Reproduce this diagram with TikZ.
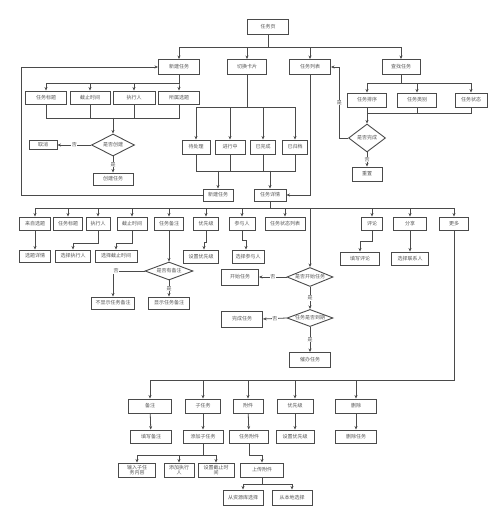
\documentclass[tikz,border=0pt]{standalone}
\usepackage{fontspec}
\newfontfamily\cjk{Noto Sans CJK SC}
\usetikzlibrary{shapes.geometric,arrows.meta}
\definecolor{linegray}{HTML}{4A4A4A}
\definecolor{textgray}{HTML}{555555}
\begin{document}
\begin{tikzpicture}[
    x=1pt, y=-1pt,
    process/.style={rectangle, draw=linegray, line width=0.9pt, fill=white, minimum width=#1, minimum height=13pt, inner sep=0.5pt, align=center, font=\cjk\fontsize{5}{5.5}\selectfont, text=textgray},
    process/.default=40pt,
    decision/.style={diamond, draw=linegray, line width=0.9pt, fill=white, aspect=2.4, inner sep=0pt, font=\cjk\fontsize{5}{5.5}\selectfont, text=textgray},
    arrow/.style={-{Stealth[length=3.5pt,width=3pt]}, draw=linegray, line width=0.8pt},
    line/.style={draw=linegray, line width=0.8pt},
    lbl/.style={fill=white, inner sep=0.6pt, font=\cjk\fontsize{5}{5.5}\selectfont, text=textgray}
]
\useasboundingbox (0,0) rectangle (500,518);

% Top level
\node[process=41pt, minimum height=15pt] (page) at (268,27) {任务页};
\node[process=41pt, minimum height=15pt] (newtask) at (179,67) {新建任务};
\node[process=39pt, minimum height=15pt] (switch) at (247,67) {切换卡片};
\node[process=41pt, minimum height=15pt] (list) at (310,67) {任务列表};
\node[process=38pt, minimum height=15pt] (find) at (401,67) {查找任务};

\foreach \n in {newtask,switch,list,find}
    \draw[arrow] (page.south) -- ++(0,12.5) -| (\n.north);

% New task
\node[process=41pt] (title) at (46,97.5) {任务标题};
\node[process=40pt] (deadline) at (90,97.5) {截止时间};
\node[process=42pt] (exec) at (134,97.5) {执行人};
\node[process=41pt] (topic) at (179,97.5) {所属选题};
\node[decision, minimum width=43pt, minimum height=22pt] (iscreate) at (113,145) {是否创建};
\node[process=28pt, minimum height=9pt] (cancel) at (43,145) {取消};
\node[process=40pt, minimum height=12pt] (create) at (113,179) {创建任务};

\foreach \n in {title,deadline,exec,topic}
    \draw[arrow] (newtask.south) -- ++(0,8.5) -| (\n.north);
\draw[line] (title.south) -- ++(0,14) -| (topic.south);
\draw[line] (deadline.south) -- ++(0,14);
\draw[line] (exec.south) -- ++(0,14);
\draw[arrow] ([yshift=16pt]iscreate.north) -- (iscreate.north);
\draw[arrow] (iscreate.west) -- node[lbl]{否} (cancel.east);
\draw[arrow] (iscreate.south) -- node[lbl]{是} (create.north);

% Switch cards
\node[process=28pt, minimum height=14pt] (pending) at (196,147) {待处理};
\node[process=30pt, minimum height=14pt] (doing) at (230,147) {进行中};
\node[process=25pt, minimum height=14pt] (done) at (263,147) {已完成};
\node[process=25pt, minimum height=14pt] (archived) at (295,147) {已归档};
\node[process=30pt, minimum height=12pt] (newtask2) at (218,195) {新建任务};
\node[process=32pt, minimum height=12pt] (detail) at (270,195) {任务详情};

\foreach \n in {pending,doing,done,archived}
    \draw[arrow] (switch.south) -- ++(0,32.5) -| (\n.north);
\draw[line] (pending.south) -- ++(0,17) -| (archived.south);
\draw[line] (doing.south) -- ++(0,17);
\draw[line] (done.south) -- ++(0,17);
\draw[arrow] ([yshift=18pt]newtask2.north) -- (newtask2.north);
\draw[arrow] ([yshift=18pt]detail.north) -- (detail.north);
\draw[arrow] (list.south) |- (detail.east);

% loop back to new task
\coordinate (loop) at (21,195);
\draw[arrow] (newtask2.west) -- (loop) |- (newtask.west);

% Find task
\node[process=39pt, minimum height=14pt] (sort) at (367,100) {任务排序};
\node[process=39pt, minimum height=14pt] (category) at (417,100) {任务类别};
\node[process=32pt, minimum height=14pt] (state) at (471,100) {任务状态};
\node[decision, minimum width=37pt, minimum height=28pt] (isdone) at (367,138) {是否完成};
\node[process=30pt, minimum height=14pt] (reset) at (367,174) {重置};

\foreach \n in {sort,category,state}
    \draw[arrow] (find.south) -- ++(0,8.5) -| (\n.north);
\draw[line] (sort.south) -- ++(0,6) -| (state.south);
\draw[line] (category.south) -- ++(0,6);
\draw[arrow] (sort.south) -- (isdone.north);
\draw[arrow] (isdone.west) -| node[lbl, pos=0.75]{是} ([xshift=8.5pt]list.east) -- (list.east);
\draw[arrow] (isdone.south) -- node[lbl]{否} (reset.north);

% Task detail
\node[process=31pt] (fromtopic) at (35,223.5) {来自选题};
\node[process=29pt] (title2) at (68,223.5) {任务标题};
\node[process=24pt] (exec2) at (98,223.5) {执行人};
\node[process=30pt] (deadline2) at (132,223.5) {截止时间};
\node[process=29pt] (note) at (169,223.5) {任务备注};
\node[process=25pt] (prio) at (206,223.5) {优先级};
\node[process=26pt] (member) at (242,223.5) {参与人};
\node[process=40pt] (statelist) at (285,223.5) {任务状态列表};
\node[process=21pt] (comment) at (372,223.5) {评论};
\node[process=33pt] (share) at (410,223.5) {分享};
\node[process=29pt] (more) at (454,223.5) {更多};
\node[decision, minimum width=46pt, minimum height=19pt] (isstart) at (310,277) {是否开始任务};

\foreach \n in {fromtopic,title2,exec2,deadline2,note,prio,member,statelist,comment,share,more,isstart}
    \draw[arrow] (detail.south) -- ++(0,7) -| (\n.north);

\node[process=31pt, minimum height=12pt] (topicdetail) at (35,256) {选题详情};
\node[process=35pt, minimum height=12pt] (pickexec) at (73,256) {选择执行人};
\node[process=42pt, minimum height=12pt] (pickdeadline) at (116,256) {选择截止时间};
\node[process=35pt, minimum height=13pt] (setprio) at (201,256.5) {设置优先级};
\node[process=32pt, minimum height=13pt] (pickmember) at (248,256.5) {选择参与人};
\node[process=39pt] (writecomment) at (360,258.5) {填写评论};
\node[process=37pt] (pickcontact) at (410,258.5) {选择联系人};

\draw[arrow] (fromtopic) -- (topicdetail);
\draw[arrow] (exec2.south) -- ++(0,12.5) -| (pickexec.north);
\draw[arrow] (deadline2.south) -- ++(0,12.5) -| (pickdeadline.north);
\draw[arrow] (prio.south) -- ++(0,12) -| ([xshift=3pt]setprio.north);
\draw[arrow] (member.south) -- ++(0,10) -| ([xshift=-2pt]pickmember.north);
\draw[arrow] (comment.south) -- ++(0,11) -| (writecomment.north);
\draw[arrow] (share) -- (pickcontact);

% Note
\node[decision, minimum width=48pt, minimum height=18pt] (hasnote) at (169,271) {是否有备注};
\node[process=43pt, minimum height=12pt] (hidenote) at (113,303) {不显示任务备注};
\node[process=41pt, minimum height=12pt] (shownote) at (169,303) {显示任务备注};

\draw[arrow] (note.south) -- (hasnote.north);
\draw[arrow] (hasnote.west) -| node[lbl, pos=0.45]{否} (hidenote.north);
\draw[arrow] (hasnote.south) -- node[lbl]{是} (shownote.north);

% Start / due
\node[process=37pt, minimum height=16pt] (starttask) at (240,277) {开始任务};
\node[decision, minimum width=46pt, minimum height=17pt] (isdue) at (310,318) {任务是否到期};
\node[process=41pt, minimum height=16pt] (finish) at (242,319) {完成任务};
\node[process=41pt, minimum height=15pt] (urge) at (310,360) {催办任务};

\draw[arrow] (isstart.west) -- node[lbl]{否} (starttask.east);
\draw[arrow] (isstart.south) -- node[lbl]{是} (isdue.north);
\draw[arrow] (isdue.west) -- node[lbl]{否} (finish.east);
\draw[arrow] (isdue.south) -- node[lbl]{是} (urge.north);

% More
\node[process=43pt, minimum height=14pt] (note2) at (150,406) {备注};
\node[process=35pt, minimum height=14pt] (subtask) at (203,406) {子任务};
\node[process=30pt, minimum height=14pt] (attach) at (248,406) {附件};
\node[process=36pt, minimum height=14pt] (prio2) at (295,406) {优先级};
\node[process=41pt, minimum height=14pt] (delete) at (356,406) {删除};

\foreach \n in {note2,subtask,attach,prio2,delete}
    \draw[arrow] (more.south) -- ++(0,150) -| (\n.north);

\node[process=41pt] (writenote) at (151,436.5) {填写备注};
\node[process=40pt] (addsub) at (203,436.5) {添加子任务};
\node[process=39pt] (attachtask) at (249,436.5) {任务附件};
\node[process=38pt] (setprio2) at (295,436.5) {设置优先级};
\node[process=41pt] (deltask) at (356,436.5) {删除任务};

\draw[arrow] (note2) -- (writenote);
\draw[arrow] (subtask) -- (addsub);
\draw[arrow] (attach) -- (attachtask);
\draw[arrow] (prio2) -- (setprio2);
\draw[arrow] (delete) -- (deltask);

% Subtask and attachment
\node[process=37pt, minimum height=14pt] (inputsub) at (137,470) {输入子任\\务内容};
\node[process=30pt, minimum height=14pt] (addexec) at (179,470) {添加执行\\人};
\node[process=36pt, minimum height=14pt] (setdeadline) at (216,470) {设置截止时\\间};
\node[process=43pt, minimum height=14pt] (upload) at (262,470) {上传附件};
\node[process=40pt, minimum height=15pt] (fromlib) at (243,497.5) {从资源库选择};
\node[process=40pt, minimum height=15pt] (fromlocal) at (292,497.5) {从本地选择};

\foreach \n in {inputsub,addexec,setdeadline}
    \draw[arrow] (addsub.south) -- ++(0,12) -| (\n.north);
\draw[arrow] (attachtask.south) -- ++(0,12) -| (upload.north);
\foreach \n in {fromlib,fromlocal}
    \draw[arrow] (upload.south) -- ++(0,7) -| (\n.north);
\end{tikzpicture}
\end{document}
